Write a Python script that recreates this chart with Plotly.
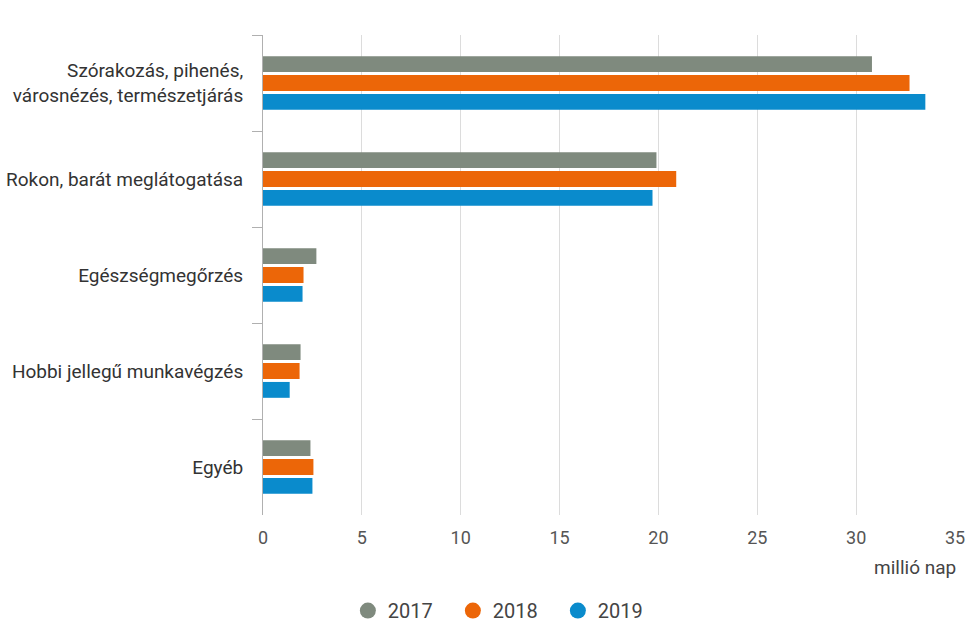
import plotly.graph_objects as go

# Utazási célok szerinti vendégéjszakák (millió nap)
categories = [
    "Szórakozás, pihenés,<br>városnézés, természetjárás",
    "Rokon, barát meglátogatása",
    "Egészségmegőrzés",
    "Hobbi jellegű munkavégzés",
    "Egyéb",
]
years = ["2017", "2018", "2019"]
values_2017 = [30.8, 19.9, 2.7, 1.9, 2.4]
values_2018 = [32.7, 20.9, 2.05, 1.85, 2.55]
values_2019 = [33.5, 19.7, 2.0, 1.35, 2.5]
colors = ["#7f8a7e", "#ec6608", "#0a8bcc"]

series = [values_2017, values_2018, values_2019]

FONT = "Roboto, Arial, sans-serif"

fig = go.Figure()
for name, vals, col in zip(years, series, colors):
    fig.add_trace(go.Bar(
        y=categories, x=vals, name=name, orientation="h",
        marker=dict(color=col, line=dict(width=0)),
        showlegend=False,
    ))
# circular legend markers
for name, col in zip(years, colors):
    fig.add_trace(go.Scatter(
        x=[None], y=[None], mode="markers", name=name,
        marker=dict(color=col, size=20, symbol="circle"),
        showlegend=True,
    ))

fig.update_layout(
    width=970, height=623,
    margin=dict(l=263, r=15, t=35, b=108, autoexpand=False),
    paper_bgcolor="white", plot_bgcolor="white",
    barmode="group", bargap=0.41, bargroupgap=0.16,
    font=dict(family=FONT, size=19, color="#444"),
    legend=dict(
        orientation="h", xref="container", x=0.521, xanchor="center",
        yref="container", y=0.02, yanchor="middle",
        font=dict(size=20, color="#444"), itemwidth=30,
        entrywidth=60, entrywidthmode="pixels",
    ),
    annotations=[dict(
        text="millió nap", x=1.0, xref="paper", y=-0.11, yref="paper",
        xanchor="right", yanchor="middle", showarrow=False, xshift=3,
        font=dict(size=19, color="#444"),
    )],
)
fig.update_xaxes(
    range=[0, 35], dtick=5, tick0=0,
    showgrid=True, gridcolor="#dcdcdc", gridwidth=1,
    zeroline=False, showline=False,
    tickfont=dict(size=18, color="#555"), ticklabelstandoff=10,
)
fig.update_yaxes(
    autorange="reversed", type="category",
    showline=True, linecolor="#b0b0b0", linewidth=1,
    ticks="outside", tickson="boundaries", ticklen=10, tickcolor="#b0b0b0",
    showgrid=False, tickfont=dict(size=19, color="#333"), ticklabelstandoff=15,
)

fig.write_html("out.html")
